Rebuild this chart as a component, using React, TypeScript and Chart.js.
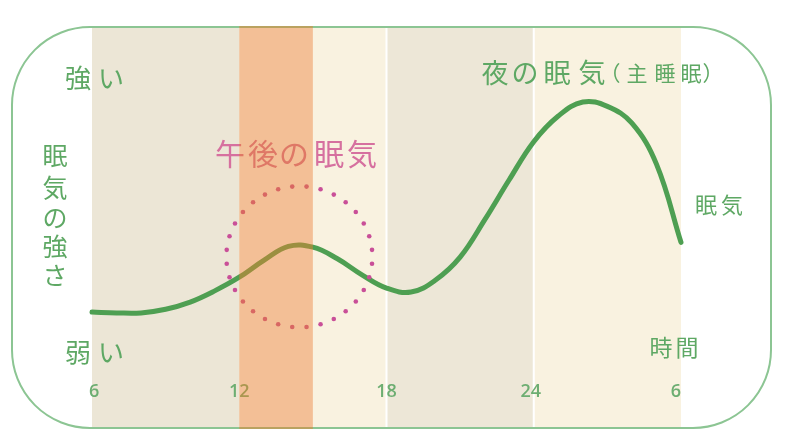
import React, { useEffect, useRef } from "react";
import { Chart, registerables } from "chart.js";

Chart.register(...registerables);

// Curve: sleepiness level (0-100) by hour of day (6 → 30 = next 6)
const hours = [6, 7, 8, 9, 10, 11, 12, 13, 14, 15, 16, 17, 18, 19, 20, 21, 22, 23, 24, 25, 26, 27, 28, 29, 30];
const levels = [28.9, 28.7, 28.7, 29.6, 31.4, 34.2, 37.6, 41.8, 45.3, 45.1, 42.2, 38.2, 34.9, 33.9, 36.9, 42.6, 51.9, 61.9, 71.4, 77.8, 81.3, 80.2, 76.0, 65.8, 46.3];

// X tick values and their labels
const tickHours = [6, 12, 18, 24, 30];
const tickLabels = ["6", "12", "18", "24", "6"];

// Background bands [from, to]
const bandStarts = [6, 15, 18, 24];
const bandEnds = [12, 18, 24, 30];
const bandColors = ["#ECE6D6", "#F9F2E0", "#EDE7D7", "#F9F2E0"];
const afternoonBand = [12, 15];

// Afternoon dip marker (centre in data units)
const dipHour = 14.45;
const dipLevel = 42.7;

const GREEN_TEXT = "#5EA864";
const PINK_TEXT = "#D6709F";
const JP = '"Noto Sans CJK JP", "Noto Sans", sans-serif';

function roundRectPath(ctx: CanvasRenderingContext2D, x: number, y: number, w: number, h: number, r: number) {
  ctx.beginPath();
  ctx.moveTo(x + r, y);
  ctx.lineTo(x + w - r, y);
  ctx.arcTo(x + w, y, x + w, y + r, r);
  ctx.lineTo(x + w, y + h - r);
  ctx.arcTo(x + w, y + h, x + w - r, y + h, r);
  ctx.lineTo(x + r, y + h);
  ctx.arcTo(x, y + h, x, y + h - r, r);
  ctx.lineTo(x, y + r);
  ctx.arcTo(x, y, x + r, y, r);
  ctx.closePath();
}

const BOX = { x: 12, y: 27, w: 759, h: 401, r: 78 };

function drawChars(ctx: CanvasRenderingContext2D, chars: string[], xs: number[], ys: number[], size: number, color: string) {
  ctx.save();
  ctx.font = `${size}px ${JP}`;
  ctx.fillStyle = color;
  ctx.textAlign = "center";
  ctx.textBaseline = "middle";
  chars.forEach((c, i) => ctx.fillText(c, xs[i], ys[i]));
  ctx.restore();
}

const decorPlugin = {
  id: "decor",
  beforeDatasetsDraw(chart: any) {
    const { ctx, scales } = chart;
    const x = scales.x;
    ctx.save();
    roundRectPath(ctx, BOX.x, BOX.y, BOX.w, BOX.h, BOX.r);
    ctx.clip();
    bandStarts.forEach((s, i) => {
      const x0 = x.getPixelForValue(s);
      const x1 = x.getPixelForValue(bandEnds[i]);
      ctx.fillStyle = bandColors[i];
      ctx.fillRect(x0, BOX.y, x1 - x0, BOX.h);
    });
    ctx.fillStyle = "#FFFFFF";
    [18, 24].forEach((h) => {
      const px = x.getPixelForValue(h);
      ctx.fillRect(px - 1, BOX.y, 2, BOX.h);
    });
    ctx.restore();
  },
  afterDatasetsDraw(chart: any) {
    const { ctx, scales } = chart;
    const x = scales.x;
    const y = scales.y;

    // dotted ellipse around afternoon dip
    const cx = x.getPixelForValue(dipHour);
    const cy = y.getPixelForValue(dipLevel);
    const n = 32;
    ctx.save();
    ctx.fillStyle = "#C94F98";
    for (let i = 0; i < n; i++) {
      const a = ((i + 0.5) / n) * Math.PI * 2 - Math.PI / 2;
      ctx.beginPath();
      ctx.arc(cx + 73 * Math.cos(a), cy + 70.5 * Math.sin(a), 2.3, 0, Math.PI * 2);
      ctx.fill();
    }
    ctx.restore();

    // texts
    drawChars(ctx, ["強", "い"], [78, 111], [78, 78], 26, GREEN_TEXT);
    drawChars(ctx, ["弱", "い"], [78, 111], [352, 352], 26, GREEN_TEXT);
    drawChars(ctx, ["眠", "気", "の", "強", "さ"], [55, 55, 55, 55, 55], [155, 187, 217, 246, 275], 25, GREEN_TEXT);
    drawChars(ctx, ["午", "後", "の", "眠", "気"], [230, 263, 294, 329, 362], [154, 154, 154, 154, 154], 30, PINK_TEXT);
    drawChars(ctx, ["夜", "の", "眠", "気"], [495, 525, 557, 592], [73, 73, 73, 73], 27, GREEN_TEXT);
    drawChars(ctx, ["（", "主", "睡", "眠", "）"], [610, 637, 665, 691, 713], [73, 73, 73, 73, 73], 21, GREEN_TEXT);
    drawChars(ctx, ["眠", "気"], [706, 732], [205, 205], 22, GREEN_TEXT);
    drawChars(ctx, ["時", "間"], [661, 687], [347, 347], 23, GREEN_TEXT);

    // tick labels
    ctx.save();
    ctx.font = '600 18px "Open Sans", sans-serif';
    ctx.fillStyle = "#6DAE72";
    ctx.textBaseline = "middle";
    tickHours.forEach((h, i) => {
      const px = x.getPixelForValue(h);
      if (i === 0) {
        ctx.textAlign = "left";
        ctx.fillText(tickLabels[i], px - 3, 392);
      } else if (i === tickHours.length - 1) {
        ctx.textAlign = "right";
        ctx.fillText(tickLabels[i], px, 392);
      } else {
        ctx.textAlign = "center";
        ctx.fillText(tickLabels[i], px - (i === 3 ? 3 : 0), 392);
      }
    });
    ctx.restore();

    // border
    ctx.save();
    roundRectPath(ctx, BOX.x, BOX.y, BOX.w, BOX.h, BOX.r);
    ctx.strokeStyle = "#8CC593";
    ctx.lineWidth = 2;
    ctx.stroke();
    ctx.restore();
  },
  afterDraw(chart: any) {
    const { ctx, scales } = chart;
    const x = scales.x;
    const x0 = x.getPixelForValue(afternoonBand[0]);
    const x1 = x.getPixelForValue(afternoonBand[1]);
    ctx.save();
    ctx.fillStyle = "rgba(232,128,46,0.5)";
    ctx.fillRect(x0, BOX.y - 1, x1 - x0, BOX.h + 2);
    ctx.restore();
  },
};

export default function App() {
  const ref = useRef<HTMLCanvasElement>(null);
  useEffect(() => {
    if (!ref.current) return;
    const chart = new Chart(ref.current, {
      type: "line",
      data: {
        datasets: [
          {
            data: hours.map((h, i) => ({ x: h, y: levels[i] })),
            borderColor: "#4E9F52",
            borderWidth: 5,
            borderCapStyle: "round",
            borderJoinStyle: "round",
            tension: 0.4,
            pointRadius: 0,
            fill: false,
            clip: false as any,
          },
        ],
      },
      options: {
        animation: false,
        responsive: false,
        devicePixelRatio: 1,
        layout: { padding: { left: 92, right: 105, top: 27, bottom: 7 } },
        scales: {
          x: { type: "linear", min: 6, max: 30, display: false },
          y: { type: "linear", min: 0, max: 100, display: false },
        },
        plugins: { legend: { display: false }, tooltip: { enabled: false } },
      },
      plugins: [decorPlugin],
    });
    return () => chart.destroy();
  }, []);
  return (
    <div style={{ position: "absolute", left: 0, top: 0, width: 786, height: 435, background: "#fff" }}>
      <canvas ref={ref} width={786} height={435} style={{ width: 786, height: 435 }} />
    </div>
  );
}
